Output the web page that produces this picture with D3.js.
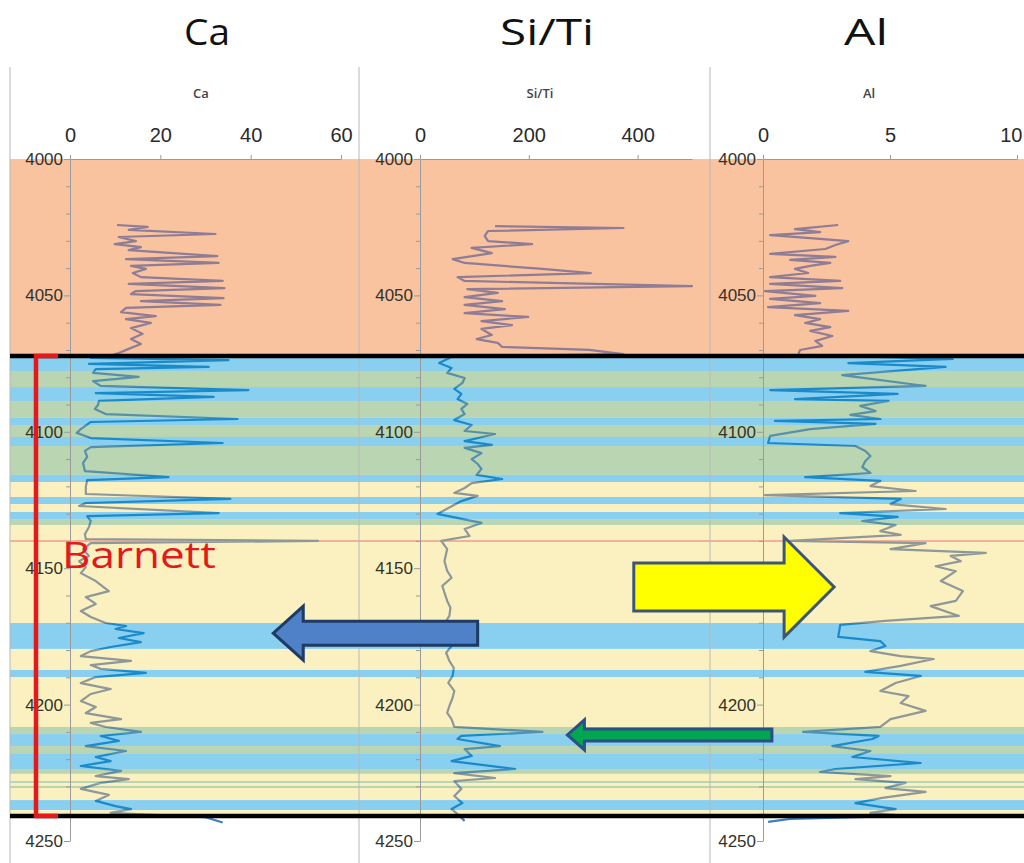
<!DOCTYPE html>
<html>
<head>
<meta charset="utf-8">
<script src="https://cdn.jsdelivr.net/npm/d3@7"></script>
<style>
body { margin: 0; background: #fff; }
</style>
</head>
<body>
<div id="canvas"></div>
<script>
// depth labels and the scale labels of the three tracks
const depthTicks = [4000, 4050, 4100, 4150, 4200, 4250];
const caTicks = [0, 20, 40, 60];
const siTiTicks = [0, 200, 400];
const alTicks = [0, 5, 10];

// facies bands (top depth, kind); each band runs down to the next one
const bandTop = [4000, 4072.2, 4077.7, 4083.6, 4088.7, 4094.9, 4097.5, 4101.9, 4105.2, 4115.8,
    4118.4, 4123.9, 4126.5, 4129.4, 4132.0, 4134.2, 4170.1, 4179.6, 4187.3, 4189.9,
    4208.2, 4210.8, 4215.2, 4218.1, 4223.6, 4225.4, 4228.0, 4228.8, 4229.8, 4230.6,
    4235.0, 4238.7, 4240.8];
const bandKind = ["orange", "blue", "green", "blue", "green", "blue", "green", "blue", "green", "blue",
    "yellow", "blue", "yellow", "blue", "green", "yellow", "blue", "yellow", "blue", "yellow",
    "green", "blue", "green", "blue", "green", "yellow", "green", "yellow", "green", "yellow",
    "blue", "yellow", "white"];

const barnettTop = 4072.2;
const barnettBase = 4240.8;
const markerDepth = 4140;

// logs: [depth, value]
const caLog = [
    [4024.2, 10.4], [4024.9, 17.2], [4026.0, 13.0], [4027.5, 32.2], [4028.6, 10.8], [4030.1, 14.6], [4031.2, 9.9],
    [4032.3, 15.7], [4033.4, 13.0], [4035.6, 32.6], [4036.7, 12.4], [4038.1, 32.9], [4039.2, 13.5], [4040.3, 16.8],
    [4041.8, 13.9], [4043.3, 15.7], [4044.7, 33.8], [4045.8, 13.0], [4047.3, 34.2], [4048.4, 14.6], [4049.5, 13.5],
    [4051.0, 34.0], [4052.1, 15.7], [4053.5, 33.3], [4054.6, 12.4], [4056.1, 11.3], [4057.6, 19.0], [4058.7, 12.4],
    [4060.1, 17.9], [4062.0, 13.5], [4064.1, 16.1], [4066.0, 13.5], [4067.8, 15.7], [4069.6, 13.0], [4071.1, 10.8],
    [4071.8, 9.5], [4072.9, 4.6], [4073.7, 35.1], [4075.1, 4.2], [4076.2, 30.7], [4077.0, 5.7], [4078.4, 5.1],
    [4079.9, 15.2], [4081.4, 5.1], [4083.2, 6.8], [4084.7, 39.5], [4085.8, 5.7], [4087.2, 31.8], [4088.7, 6.4],
    [4090.2, 6.2], [4091.6, 5.5], [4093.5, 7.9], [4095.3, 37.1], [4096.4, 4.6], [4099.0, 2.4], [4100.4, 1.5],
    [4102.3, 4.6], [4104.1, 33.8], [4105.6, 4.6], [4107.0, 3.3], [4109.2, 3.8], [4111.4, 2.9], [4114.4, 3.3],
    [4116.6, 21.8], [4117.7, 3.8], [4120.2, 3.5], [4122.8, 3.5], [4124.6, 35.5], [4126.1, 3.5], [4127.2, 2.0],
    [4129.8, 32.9], [4130.9, 3.8], [4132.7, 4.6], [4134.9, 4.2], [4137.5, 3.3], [4139.3, 3.5], [4140.0, 54.9],
    [4140.8, 4.6], [4143.0, 2.9], [4145.5, 4.2], [4147.4, 2.0], [4149.6, 3.5], [4151.8, 2.4], [4154.7, 5.7],
    [4158.4, 8.6], [4160.6, 3.5], [4163.1, 5.7], [4165.7, 2.4], [4167.9, 4.6], [4170.1, 7.9], [4171.2, 12.4],
    [4172.3, 10.1], [4173.8, 16.3], [4175.6, 10.8], [4177.1, 15.7], [4178.9, 9.0], [4180.4, 4.6], [4182.2, 2.4],
    [4184.0, 13.5], [4185.5, 4.6], [4186.9, 6.8], [4188.4, 16.8], [4189.9, 5.7], [4192.1, 2.4], [4194.3, 9.0],
    [4196.1, 4.6], [4198.7, 2.4], [4200.9, 5.7], [4203.1, 3.5], [4205.3, 11.3], [4206.7, 4.6], [4208.2, 7.9],
    [4210.0, 15.7], [4211.5, 6.8], [4213.3, 10.8], [4215.2, 3.5], [4217.0, 12.4], [4219.2, 5.7], [4220.7, 9.0],
    [4222.5, 2.4], [4224.3, 11.3], [4226.2, 5.7], [4227.3, 13.0], [4228.7, 6.8], [4230.9, 2.4], [4233.1, 8.6],
    [4235.3, 5.7], [4237.2, 10.1], [4238.3, 13.5], [4239.7, 9.0], [4241.3, 30.0], [4243.2, 33.8]
];

const siTiLog = [
    [4024.6, 138], [4025.3, 374], [4026.4, 125], [4028.2, 119], [4030.1, 125], [4031.2, 206], [4032.6, 95],
    [4034.5, 132], [4036.7, 60], [4038.1, 82], [4040.3, 225], [4041.8, 314], [4043.3, 69], [4044.7, 82],
    [4046.6, 500], [4047.7, 87], [4049.1, 143], [4050.6, 82], [4052.1, 151], [4053.5, 82], [4055.0, 156],
    [4056.5, 82], [4057.9, 199], [4059.4, 113], [4060.9, 169], [4062.3, 113], [4064.5, 132], [4066.0, 104],
    [4067.4, 143], [4068.9, 151], [4070.0, 311], [4071.5, 374], [4072.4, 60], [4074.8, 35], [4076.6, 58],
    [4078.4, 50], [4080.3, 82], [4082.1, 78], [4084.3, 63], [4086.1, 76], [4088.0, 69], [4089.8, 87],
    [4091.6, 76], [4093.5, 82], [4095.7, 63], [4097.5, 95], [4099.7, 82], [4100.8, 138], [4103.4, 82],
    [4104.8, 132], [4105.9, 82], [4107.8, 113], [4110.0, 95], [4111.8, 106], [4113.6, 113], [4115.8, 104],
    [4117.3, 151], [4118.8, 95], [4120.6, 82], [4122.4, 63], [4123.5, 106], [4125.4, 76], [4130.1, 32],
    [4133.4, 113], [4135.6, 82], [4138.2, 91], [4140.0, 39], [4143.0, 50], [4147.4, 45], [4151.0, 50],
    [4153.5, 58], [4156.5, 41], [4159.0, 45], [4162.0, 50], [4164.5, 56], [4167.5, 54], [4170.0, 46],
    [4173.0, 50], [4176.0, 55], [4178.5, 58], [4181.0, 48], [4184.0, 54], [4186.5, 62], [4189.5, 60],
    [4192.0, 52], [4195.0, 63], [4197.5, 60], [4200.5, 54], [4203.0, 50], [4205.3, 58], [4208.2, 63],
    [4210.0, 225], [4211.5, 76], [4212.6, 69], [4215.2, 147], [4216.3, 82], [4218.8, 95], [4220.7, 58],
    [4223.6, 175], [4225.1, 63], [4226.9, 138], [4228.0, 63], [4230.9, 76], [4233.5, 63], [4236.1, 78],
    [4238.3, 58], [4240.1, 69], [4242.7, 82]
];

const alLog = [
    [4024.2, 2.96], [4025.7, 1.26], [4026.8, 2.25], [4027.9, 0.28], [4029.0, 1.86], [4030.1, 3.36], [4031.5, 2.85],
    [4033.0, 2.45], [4034.8, 0.28], [4035.9, 2.85], [4037.0, 1.07], [4038.1, 2.65], [4039.2, 1.86], [4040.3, 1.26],
    [4041.8, 1.78], [4043.3, 0.28], [4044.7, 3.04], [4045.8, 0.28], [4047.3, 3.12], [4048.4, 0.08], [4050.2, 2.06],
    [4051.3, 0.28], [4052.8, 2.25], [4054.3, 0.2], [4055.7, 3.36], [4057.2, 1.26], [4058.7, 2.25], [4060.1, 1.66],
    [4061.6, 2.65], [4063.0, 1.86], [4064.9, 2.73], [4066.7, 2.06], [4068.5, 2.33], [4070.0, 1.46], [4071.8, 1.38],
    [4073.3, 7.47], [4074.8, 3.36], [4076.2, 7.19], [4079.2, 3.12], [4083.2, 6.40], [4084.7, 0.28], [4086.1, 5.30],
    [4088.0, 1.26], [4088.7, 4.94], [4090.5, 3.83], [4092.4, 4.43], [4093.8, 3.44], [4095.3, 4.62], [4096.0, 0.47],
    [4097.1, 4.43], [4099.0, 1.86], [4101.5, 0.28], [4104.1, 0.2], [4105.2, 3.64], [4107.0, 4.03], [4108.9, 4.23],
    [4110.7, 4.03], [4112.9, 3.91], [4115.1, 4.23], [4116.6, 1.66], [4118.0, 4.62], [4119.9, 4.23], [4121.7, 6.01],
    [4123.2, 0.08], [4124.6, 5.42], [4126.5, 5.02], [4128.3, 7.19], [4129.8, 3.04], [4131.2, 5.30], [4132.7, 3.91],
    [4134.2, 5.22], [4136.4, 4.62], [4137.8, 5.42], [4140.0, 1.07], [4140.8, 6.40], [4143.0, 5.02], [4144.4, 8.77],
    [4145.5, 7.39], [4147.4, 7.79], [4149.3, 6.80], [4151.1, 7.59], [4154.7, 7.00], [4158.4, 7.87], [4162.0, 7.59],
    [4163.9, 6.60], [4167.5, 7.71], [4169.3, 4.82], [4170.8, 3.04], [4175.2, 2.96], [4176.7, 4.62], [4178.5, 4.82],
    [4180.4, 4.23], [4182.2, 5.42], [4183.3, 6.72], [4185.8, 5.42], [4188.0, 4.03], [4189.5, 6.21], [4192.1, 5.22],
    [4195.0, 4.62], [4196.9, 5.73], [4199.4, 5.42], [4202.3, 6.40], [4205.3, 5.02], [4208.2, 4.62], [4210.0, 1.58],
    [4211.5, 4.55], [4212.6, 4.31], [4215.2, 2.73], [4217.0, 4.23], [4219.2, 3.52], [4221.4, 6.21], [4223.6, 2.85],
    [4224.7, 2.25], [4226.2, 5.02], [4227.3, 3.64], [4228.7, 5.61], [4230.6, 4.82], [4232.0, 6.40], [4234.2, 4.70],
    [4236.1, 3.64], [4238.3, 5.22], [4239.7, 4.23], [4240.8, 5.61], [4241.9, 1.07], [4243.0, 0.2]
];

const width = 1024;
const height = 863;

const bandFill = { orange: "#f9c3a0", blue: "#89cfef", green: "#b9d5b1", yellow: "#fbf1c0", white: "#ffffff" };
const curveColor = { orange: "#8f7c95", blue: "#1b8acb", green: "#5790aa", yellow: "#8e9898", white: "#3b7fc4" };

const svg = d3.select("#canvas").append("svg")
    .attr("width", width)
    .attr("height", height)
    .style("font-family", "'Open Sans', sans-serif");

const y = d3.scaleLinear()
    .domain([4000, 4250])
    .range([159, 841]);

const bands = bandTop.map((t, i) => ({
    top: t,
    base: i < bandTop.length - 1 ? bandTop[i + 1] : 4262,
    kind: bandKind[i]
}));

const panels = [
    { title: "Ca", cx: 207, tw: 46, sub: 201, left: 10, x: d3.scaleLinear().domain([0, 60]).range([70, 341]), ticks: caTicks, log: caLog },
    { title: "Si/Ti", cx: 547, tw: 94, sub: 540, left: 359, x: d3.scaleLinear().domain([0, 500]).range([420, 692]), ticks: siTiTicks, log: siTiLog },
    { title: "Al", cx: 866, tw: 44, sub: 869, left: 710, x: d3.scaleLinear().domain([0, 10]).range([763, 1017]), ticks: alTicks, log: alLog }
];

// bands
svg.append("g").selectAll("rect").data(bands).enter().append("rect")
    .attr("x", 10)
    .attr("y", d => y(d.top))
    .attr("width", width - 10)
    .attr("height", d => y(d.base) - y(d.top))
    .style("fill", d => bandFill[d.kind]);

// clip paths, one per band kind, used to colour the logs
const defs = svg.append("defs");
Object.keys(bandFill).forEach(k => {
    defs.append("clipPath").attr("id", "clip-" + k)
        .selectAll("rect").data(bands.filter(b => b.kind === k)).enter().append("rect")
        .attr("x", 0)
        .attr("y", d => y(d.top))
        .attr("width", width)
        .attr("height", d => y(d.base) - y(d.top));
});

// marker line inside the Barnett
svg.append("line")
    .attr("x1", 10).attr("x2", width)
    .attr("y1", y(markerDepth)).attr("y2", y(markerDepth))
    .style("stroke", "#f1b29c")
    .style("stroke-width", 2);

// panel separators
svg.append("g").selectAll("line").data(panels).enter().append("line")
    .attr("x1", d => d.left).attr("x2", d => d.left)
    .attr("y1", 67).attr("y2", height)
    .style("stroke", "#b8b8b8")
    .style("stroke-width", 1);

panels.forEach(p => {
    const g = svg.append("g");

    // big title
    svg.append("text")
        .attr("x", p.cx).attr("y", 45)
        .attr("text-anchor", "middle")
        .attr("textLength", p.tw)
        .attr("lengthAdjust", "spacingAndGlyphs")
        .style("font-size", "37px")
        .style("fill", "#111")
        .text(p.title);

    // small track title
    g.append("text")
        .attr("x", p.sub).attr("y", 98)
        .attr("text-anchor", "middle")
        .style("font-size", "13px")
        .style("font-weight", "600")
        .style("fill", "#444")
        .text(p.title);

    const xAxis = g.append("g")
        .attr("transform", `translate(0,${y(4000)})`)
        .call(d3.axisTop(p.x).tickValues(p.ticks).tickSize(4).tickSizeOuter(0).tickPadding(13));
    xAxis.selectAll("text")
        .style("font-size", "20px")
        .style("fill", "#2a2a2a");
    // last label sits on the page edge
    xAxis.selectAll("text").filter(d => p.x(d) > 1005)
        .attr("text-anchor", "end")
        .attr("x", 1022 - p.x(10));

    const yAxis = g.append("g")
        .attr("transform", `translate(${p.x(0)},0)`)
        .call(d3.axisLeft(y).tickValues(d3.range(4000, 4251, 10)).tickSize(4).tickSizeOuter(0)
            .tickFormat(d => depthTicks.includes(d) ? d : ""));
    yAxis.selectAll(".tick line").filter(d => depthTicks.includes(d)).attr("x2", -6);
    yAxis.selectAll("text")
        .style("font-size", "17px")
        .style("fill", "#34322a");

    [xAxis, yAxis].forEach(a => {
        a.select(".domain").style("stroke", "#9a9a9a");
        a.selectAll(".tick line").style("stroke", "#9a9a9a");
    });

    const line = d3.line()
        .x(d => p.x(d[1]))
        .y(d => y(d[0]));

    Object.keys(curveColor).forEach(k => {
        g.append("path")
            .datum(p.log)
            .attr("clip-path", `url(#clip-${k})`)
            .attr("d", line)
            .style("fill", "none")
            .style("stroke", curveColor[k])
            .style("stroke-width", 2.2)
            .style("stroke-linejoin", "round");
    });
});

// formation boundaries
svg.append("g").selectAll("line").data([barnettTop, barnettBase]).enter().append("line")
    .attr("x1", 10).attr("x2", width)
    .attr("y1", d => y(d)).attr("y2", d => y(d))
    .style("stroke", "#000")
    .style("stroke-width", 4.5);

// arrows
function arrowPath(tail, tip, yc, sh, hh, hl) {
    const dir = tip > tail ? 1 : -1;
    const hb = tip - dir * hl;
    return `M${tail},${yc - sh}L${hb},${yc - sh}L${hb},${yc - hh}L${tip},${yc}L${hb},${yc + hh}L${hb},${yc + sh}L${tail},${yc + sh}Z`;
}
const ca = panels[0].x, siTi = panels[1].x, al = panels[2].x;

svg.append("path")
    .attr("d", arrowPath(siTi(106), ca(45), y(4173.8), 12, 27, 30))
    .style("fill", "#4f81c9")
    .style("stroke", "#1f3a63")
    .style("stroke-width", 3);

svg.append("path")
    .attr("d", arrowPath(siTi(393), al(2.8), y(4156.9), 24, 50, 50))
    .style("fill", "#ffff00")
    .style("stroke", "#3e5676")
    .style("stroke-width", 3);

svg.append("path")
    .attr("d", arrowPath(al(0.35), siTi(271), y(4211.1), 6, 15, 17))
    .style("fill", "#00a651")
    .style("stroke", "#2b4f86")
    .style("stroke-width", 3);

// Barnett bracket
svg.append("path")
    .attr("d", `M58,${y(barnettTop)}H36V${y(barnettBase)}H58`)
    .style("fill", "none")
    .style("stroke", "#e3191b")
    .style("stroke-width", 4.5);

svg.append("text")
    .attr("x", 62).attr("y", 568)
    .attr("textLength", 154)
    .attr("lengthAdjust", "spacingAndGlyphs")
    .style("font-size", "37px")
    .style("fill", "#e3191b")
    .text("Barnett");
</script>
</body>
</html>
